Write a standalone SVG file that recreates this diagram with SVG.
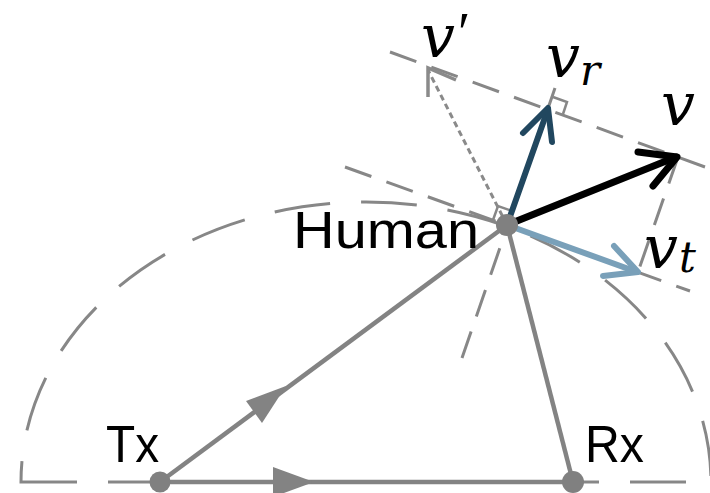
<svg xmlns="http://www.w3.org/2000/svg" width="710" height="493" viewBox="0 0 710 493">
<style>
.dash{fill:none;stroke:#878787;stroke-width:3;stroke-dasharray:28 16}
.ell{fill:none;stroke:#878787;stroke-width:3;stroke-dasharray:56 31}
.solid{fill:none;stroke:#838383;stroke-width:4.5}
.tri{fill:#838383}
.dot{fill:#808080}
.lbl{font-family:"Liberation Sans",Arial,sans-serif;font-size:52px;fill:#000}
.math{font-family:"DejaVu Serif","Liberation Serif",serif;font-style:italic;fill:#000}
.mark{fill:none;stroke:#878787;stroke-width:2.5}
</style>
<rect width="710" height="493" fill="#fff"/>
<g id="connectors">
  <path class="ell" d="M21,482 H711 A345,280 0 0 0 21,482 Z"/>
  <line class="dash" x1="345" y1="167" x2="690" y2="291"/>
  <line class="dash" x1="390" y1="52" x2="705" y2="167"/>
  <line class="dash" x1="462" y1="358" x2="555" y2="88"/>
  <line class="dash" x1="678" y1="157" x2="638" y2="272"/>
  <path class="mark" d="M553,97 L567,102 L563,114"/>
  <path class="mark" d="M493,220 L498,206 L512,211"/>
  <line class="solid" x1="160" y1="482" x2="507" y2="225"/>
  <line class="solid" x1="507" y1="225" x2="573" y2="482"/>
  <line class="solid" x1="160" y1="482" x2="573" y2="482" stroke-width="5"/>
  <polygon class="tri" points="286,386 246,401 262,423"/>
  <polygon class="tri" points="314,482 273,467 273,497"/>
  <line x1="507" y1="225" x2="428" y2="70" stroke="#8a8a8a" stroke-width="3" stroke-dasharray="6 4"/>
  <polyline points="428,97 428,68 456,80" fill="none" stroke="#8a8a8a" stroke-width="3.5"/>
  <g id="v_r" fill="none" stroke="#21475f" stroke-width="6" stroke-linecap="round" stroke-linejoin="round">
    <line x1="507" y1="225" x2="548" y2="109"/>
    <polyline points="523,133 548,108 552,142"/>
  </g>
  <g id="v_t" fill="none" stroke="#79a0b9" stroke-width="6" stroke-linecap="round" stroke-linejoin="round">
    <line x1="507" y1="225" x2="637" y2="272"/>
    <polyline points="614,246 638,272 603,276"/>
  </g>
  <g id="v" fill="none" stroke="#000" stroke-width="7" stroke-linecap="round" stroke-linejoin="round">
    <line x1="507" y1="225" x2="676" y2="157"/>
    <polyline points="638,152 677,157 653,186"/>
  </g>
</g>
<g id="human"><circle class="dot" cx="507" cy="225" r="11"/><text class="lbl" x="293" y="248" textLength="186" lengthAdjust="spacingAndGlyphs">Human</text></g>
<g id="tx"><circle class="dot" cx="160" cy="482" r="10.5"/><text class="lbl" x="106" y="462" textLength="53" lengthAdjust="spacingAndGlyphs">Tx</text></g>
<g id="rx"><circle class="dot" cx="573" cy="482" r="11"/><text class="lbl" x="585" y="462" textLength="59" lengthAdjust="spacingAndGlyphs">Rx</text></g>
<g id="labels">
  <text class="math" x="421" y="57" font-size="60">v<tspan x="458" y="52" font-size="56" font-family="Liberation Serif, serif" font-style="normal">′</tspan></text>
  <text class="math" x="546" y="77" font-size="60">v<tspan x="580" y="85" font-size="42">r</tspan></text>
  <text class="math" x="661" y="125" font-size="60">v</text>
  <text class="math" x="644" y="268" font-size="60">v<tspan x="679" y="272" font-size="42">t</tspan></text>
</g>
</svg>
